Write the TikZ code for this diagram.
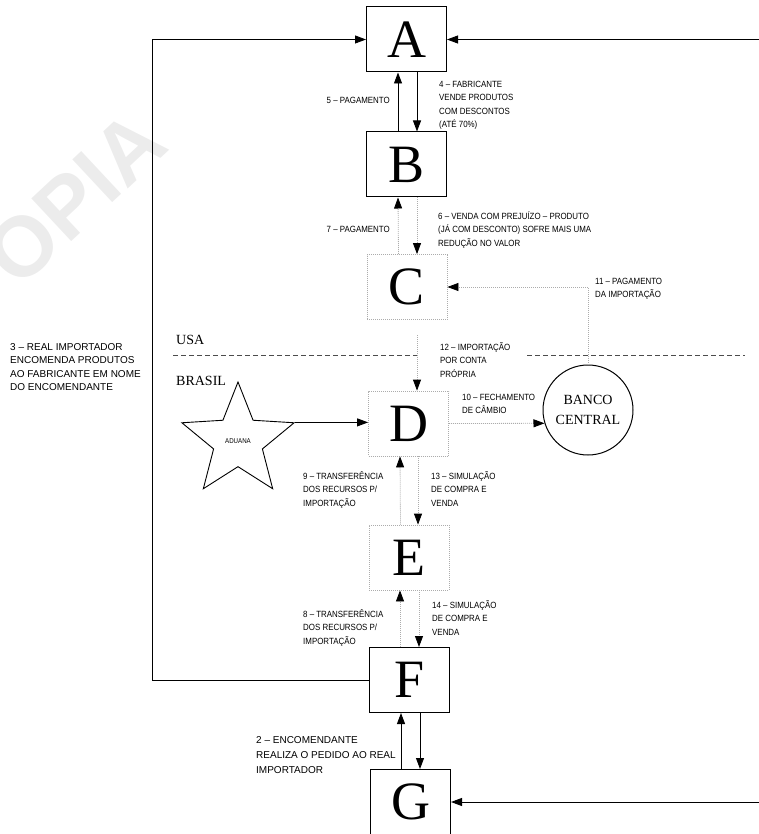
\documentclass[tikz,border=0pt]{standalone}
\usepackage{fontspec}
\setmainfont{Liberation Serif}
\newfontfamily\lab[FakeStretch=0.88]{Liberation Sans}
\newfontfamily\labw{Liberation Sans}
\newfontfamily\wmfont{Liberation Sans}
\usetikzlibrary{arrows.meta,shapes.geometric,calc}
\begin{document}
\begin{tikzpicture}[x=1pt,y=-1pt,
  box/.style={draw, line width=1pt, minimum width=80pt, minimum height=65pt, inner sep=0pt, font=\fontsize{54}{54}\selectfont},
  dbox/.style={box, draw=gray!65, line width=0.8pt, dash pattern=on 1pt off 1pt},
  lbl/.style={font=\lab\fontsize{9}{13.5}\selectfont, align=left, inner sep=0pt},
  lblw/.style={lbl, font=\labw\fontsize{10}{13.5}\selectfont},
  tip/.style={-{Triangle[length=11pt,width=8pt,color=black]}},
  sarrow/.style={tip, line width=0.9pt},
  darrow/.style={tip, draw=gray!65, line width=0.8pt, dash pattern=on 1pt off 1pt},
  border/.style={draw=black!70, line width=1pt, dash pattern=on 5pt off 3pt},
]
\useasboundingbox (0,0) rectangle (759,834);
% watermark
\node[rotate=43, text=gray!15, font=\wmfont\bfseries\fontsize{85}{85}\selectfont, inner sep=0pt] (wm) at (75,198) {OPIA};

% boxes
\node[box]  (A) at (406.5,39.5) {A};
\node[box]  (B) at (406.5,164.5) {B};
\node[dbox] (C) at (407,287) {C};
\node[dbox] (D) at (408.5,423.5) {D};
\node[dbox] (E) at (409,557.5) {E};
\node[box]  (F) at (409.5,680) {F};
\node[box]  (G) at (410.5,802) {G};

\node[circle, draw, line width=1pt, minimum size=90pt, inner sep=0pt, align=center,
      font=\fontsize{14}{20}\selectfont] (Banco) at (588,410) {BANCO\\CENTRAL};
\node[star, star points=5, star point ratio=2.3, draw, line width=0.9pt, minimum size=118pt,
      inner sep=0pt, font=\lab\fontsize{7}{7}\selectfont] (aduana) at (238,441) {ADUANA};

% country labels and border
\node[anchor=west, inner sep=0pt, font=\fontsize{14}{14}\selectfont] (usa) at (176,340) {USA};
\node[anchor=west, inner sep=0pt, font=\fontsize{14}{14}\selectfont] (brasil) at (176,381) {BRASIL};
\coordinate (b1) at (173,355);
\coordinate (b2) at (420,355);
\coordinate (b3) at (527,355);
\coordinate (b4) at (745,355);
\draw[border] (b1) -- (b2);
\draw[border] (b3) -- (b4);

% A - B
\draw[sarrow] ([xshift=-8.5pt]B.north) -- ([xshift=-8.5pt]A.south);
\draw[sarrow] ([xshift=10.5pt]A.south) -- ([xshift=10.5pt]B.north);
% B - C
\draw[darrow] ([xshift=-8.5pt]C.north) -- ([xshift=-8.5pt]B.south);
\draw[darrow] ([xshift=10.5pt]B.south) -- ([xshift=10pt]C.north);
% C - D
\coordinate (cd) at (417,335);
\draw[darrow] (cd) -- (cd |- D.north);
% D - E
\draw[darrow] ([xshift=-8.5pt]E.north) -- ([xshift=-8.5pt]D.south);
\draw[darrow] ([xshift=9.5pt]D.south) -- ([xshift=9pt]E.north);
% E - F
\draw[darrow] ([xshift=-9.5pt]F.north) -- ([xshift=-9pt]E.south);
\draw[darrow] ([xshift=10pt]E.south) -- ([xshift=9.5pt]F.north);
% F - G
\draw[sarrow] ([xshift=-9.5pt]G.north) -- ([xshift=-8.5pt]F.south);
\draw[sarrow] ([xshift=10.5pt]F.south) -- ([xshift=9.5pt]G.north);

% left loop F -> A
\coordinate (loop) at (152,39.5);
\draw[sarrow] (F.west) -| (loop) -- (A.west);
% right side lines
\coordinate (redge) at (762,0);
\draw[sarrow] (A.east -| redge) -- (A.east);
\draw[sarrow] (G.east -| redge) -- (G.east);

% aduana -> D
\draw[sarrow] (aduana.outer point 5) -- (aduana.outer point 5 -| D.west);
% D -> Banco
\draw[darrow] (D.east) -- (Banco.197);
% Banco -> C
\draw[darrow] (Banco.north) |- (C.east);

% labels
\node[lbl, anchor=east] (l5) at (390,100) {5 – PAGAMENTO};
\node[lbl, anchor=north west] (l4) at (439,81) {4 – FABRICANTE\\VENDE PRODUTOS\\COM DESCONTOS\\(ATÉ 70\%)};
\node[lbl, anchor=east] (l7) at (390,229) {7 – PAGAMENTO};
\node[lbl, anchor=north west] (l6) at (438,211) {6 – VENDA COM PREJUÍZO – PRODUTO\\(JÁ COM DESCONTO) SOFRE MAIS UMA\\REDUÇÃO NO VALOR};
\node[lbl, anchor=north west] (l11) at (595,278) {11 – PAGAMENTO\\DA IMPORTAÇÃO};
\node[lbl, anchor=north west] (l12) at (440,342) {12 – IMPORTAÇÃO\\POR CONTA\\PRÓPRIA};
\node[lbl, anchor=north west] (l10) at (462,394) {10 – FECHAMENTO\\DE CÂMBIO};
\node[lbl, anchor=north west] (l9) at (303,471) {9 – TRANSFERÊNCIA\\DOS RECURSOS P/\\IMPORTAÇÃO};
\node[lbl, anchor=north west] (l13) at (431,471) {13 – SIMULAÇÃO\\DE COMPRA E\\VENDA};
\node[lbl, anchor=north west] (l8) at (303,609) {8 – TRANSFERÊNCIA\\DOS RECURSOS P/\\IMPORTAÇÃO};
\node[lbl, anchor=north west] (l14) at (432,600) {14 – SIMULAÇÃO\\DE COMPRA E\\VENDA};
\node[lblw, anchor=north west, font=\labw\fontsize{10}{15}\selectfont] (l2) at (256,736) {2 – ENCOMENDANTE\\REALIZA O PEDIDO AO REAL\\IMPORTADOR};
\node[lblw, anchor=north west] (l3) at (10,343) {3 – REAL IMPORTADOR\\ENCOMENDA PRODUTOS\\AO FABRICANTE EM NOME\\DO ENCOMENDANTE};
\end{tikzpicture}
\end{document}
